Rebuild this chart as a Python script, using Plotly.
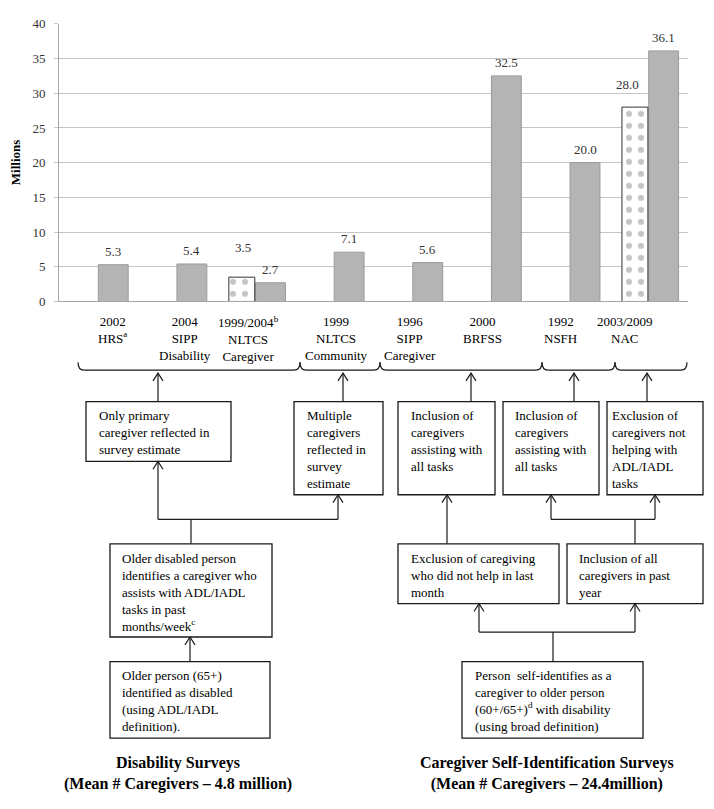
import plotly.graph_objects as go

# the page body keeps its default 8px margin on every side, so the figure is
# made 16px smaller and everything below is given in window pixels, shifted back
OFF = 8
W, H = 714 - 2 * OFF, 809 - 2 * OFF
SERIF = "Liberation Serif"

# survey estimates of caregivers (millions)
surveys = ["2002 HRS", "2004 SIPP Disability", "1999/2004 NLTCS Caregiver", "1999 NLTCS Community",
           "1996 SIPP Caregiver", "2000 BRFSS", "1992 NSFH", "2003/2009 NAC"]
tick_labels = ["2002<br>HRS<sup>a</sup>", "2004<br>SIPP<br>Disability", "1999/2004<sup>b</sup><br>NLTCS<br>Caregiver",
               "1999<br>NLTCS<br>Community", "1996<br>SIPP<br>Caregiver", "2000<br>BRFSS", "1992<br>NSFH",
               "2003/2009<br>NAC"]
solid_values = [5.3, 5.4, 2.7, 7.1, 5.6, 32.5, 20.0, 36.1]
dotted_values = [None, None, 3.5, None, None, None, None, 28.0]

# pixel nudges for the text under the axis
tick_shift = [14, 8, -7, 2, -3, -9, -10, -24]


def px(x):
    return (x - OFF) / W


def py(y):
    return 1 - (y - OFF) / H


fig = go.Figure()

fig.add_trace(go.Bar(
    x=surveys, y=solid_values, offset=0, width=0.38,
    marker=dict(color="#b4b4b4", line=dict(color="#9a9a9a", width=1)),
    hoverinfo="y", showlegend=False))

fig.add_trace(go.Bar(
    x=surveys, y=dotted_values, offset=-0.34, width=0.33,
    marker=dict(color="white", line=dict(color="#333333", width=1),
                pattern=dict(shape=".", fgcolor="#8a8a8a", bgcolor="white", size=12, solidity=0.2)),
    hoverinfo="y", showlegend=False))

annotations = []
shapes = []

# value labels above bars
for name, v in zip(surveys, solid_values):
    annotations.append(dict(x=name, y=v, xref="x", yref="y", text=f"{v:.1f}", showarrow=False,
                            xshift=15, yshift=4, yanchor="bottom",
                            font=dict(family=SERIF, size=13, color="#333333")))
dotted_nudge = {2: (1, 16), 7: (-7, 9)}
for i, (name, v) in enumerate(zip(surveys, dotted_values)):
    if v is None:
        continue
    dx, dy = dotted_nudge.get(i, (0, 0))
    annotations.append(dict(x=name, y=v, xref="x", yref="y", text=f"{v:.1f}", showarrow=False,
                            xshift=-14 + dx, yshift=4 + dy, yanchor="bottom",
                            font=dict(family=SERIF, size=13, color="#333333")))

# category labels
for name, lab, s in zip(surveys, tick_labels, tick_shift):
    annotations.append(dict(x=name, y=py(311), xref="x", yref="paper", text=lab, showarrow=False,
                            xshift=s, yanchor="top", align="center",
                            font=dict(family=SERIF, size=13, color="black")))

annotations.append(dict(x=px(15), y=py(158), xref="paper", yref="paper", text="<b>Millions</b>",
                        textangle=-90, showarrow=False, xanchor="center", yanchor="middle",
                        font=dict(family=SERIF, size=13, color="black")))

LC = "#1a1a1a"


def line(x0, y0, x1, y1):
    shapes.append(dict(type="line", xref="paper", yref="paper", x0=px(x0), y0=py(y0), x1=px(x1), y1=py(y1),
                       line=dict(color=LC, width=1.2)))


def arrow_up(x, y_from, y_to):
    line(x, y_from, x, y_to)
    shapes.append(dict(type="path", xref="paper", yref="paper",
                       path=f"M {px(x - 5)},{py(y_to + 8)} L {px(x)},{py(y_to)} L {px(x + 5)},{py(y_to + 8)}",
                       line=dict(color=LC, width=1.2)))


def brace(x0, x1, y=370, h=8, r=6):
    path = (f"M {px(x0)},{py(y - h)} Q {px(x0)},{py(y)} {px(x0 + r)},{py(y)} "
            f"L {px(x1 - r)},{py(y)} Q {px(x1)},{py(y)} {px(x1)},{py(y - h)}")
    shapes.append(dict(type="path", xref="paper", yref="paper", path=path, line=dict(color=LC, width=1.2)))


def box(x0, y0, x1, y1, text, pad=11):
    shapes.append(dict(type="rect", xref="paper", yref="paper", x0=px(x0), y0=py(y0), x1=px(x1), y1=py(y1),
                       line=dict(color=LC, width=1.3), fillcolor="rgba(0,0,0,0)"))
    annotations.append(dict(x=px(x0 + pad), y=py(y0 + 5), xref="paper", yref="paper", text=text,
                            showarrow=False, xanchor="left", yanchor="top", align="left",
                            font=dict(family=SERIF, size=13, color="black")))


# braces under the categories
brace(78, 300)
brace(300, 380)
brace(380, 542)
brace(542, 615)
brace(615, 687)

# first row of boxes
box(86, 402, 231, 463, "Only primary<br>caregiver reflected in<br>survey estimate")
box(294, 402, 383, 497, "Multiple<br>caregivers<br>reflected in<br>survey<br>estimate")
box(398, 402, 495, 497, "Inclusion of<br>caregivers<br>assisting with<br>all tasks")
box(503, 402, 599, 497, "Inclusion of<br>caregivers<br>assisting with<br>all tasks", pad=10)
box(607, 402, 703, 497, "Exclusion of<br>caregivers not<br>helping with<br>ADL/IADL<br>tasks", pad=3)

arrow_up(158, 402, 373)
arrow_up(343, 402, 373)
arrow_up(471, 402, 373)
arrow_up(574, 402, 373)
arrow_up(647, 402, 373)

# second row
box(110, 547, 272, 642, "Older disabled person<br>identifies a caregiver who<br>assists with ADL/IADL<br>"
                        "tasks in past<br>months/week<sup>c</sup>", pad=10)
box(398, 547, 559, 608, "Exclusion of caregiving<br>who did not help in last<br>month")
box(567, 547, 703, 608, "Inclusion of all<br>caregivers in past<br>year", pad=10)

line(191, 547, 191, 522)
line(158, 522, 338, 522)
arrow_up(158, 522, 463)
arrow_up(338, 522, 497)

arrow_up(447, 547, 497)
line(635, 547, 635, 522)
line(551, 522, 655, 522)
arrow_up(551, 522, 497)
arrow_up(655, 522, 497)

# third row
box(110, 667, 270, 745, "Older person (65+)<br>identified as disabled<br>(using ADL/IADL<br>definition).", pad=10)
box(462, 667, 643, 745, "Person  self-identifies as a<br>caregiver to older person<br>"
                        "(60+/65+)<sup>d</sup> with disability<br>(using broad definition)")

arrow_up(190, 667, 642)
line(553, 667, 553, 637)
line(479, 637, 635, 637)
arrow_up(479, 637, 608)
arrow_up(635, 637, 608)

# group titles
annotations.append(dict(x=px(178), y=py(781), xref="paper", yref="paper", xanchor="center", yanchor="middle",
                        text="<b>Disability Surveys<br>(Mean # Caregivers – 4.8 million)</b>",
                        showarrow=False, align="center", font=dict(family=SERIF, size=16, color="black")))
annotations.append(dict(x=px(547), y=py(781), xref="paper", yref="paper", xanchor="center", yanchor="middle",
                        text="<b>Caregiver Self-Identification Surveys<br>(Mean # Caregivers – 24.4million)</b>",
                        showarrow=False, align="center", font=dict(family=SERIF, size=16, color="black")))

fig.update_layout(
    width=W, height=H, autosize=False,
    margin=dict(l=0, r=0, t=0, b=0),
    plot_bgcolor="white", paper_bgcolor="white",
    barmode="overlay",
    xaxis=dict(domain=[px(59), px(688)], range=[-0.5, 7.5], showticklabels=False, ticks="",
               showgrid=False, showline=True, linecolor="#a6a6a6", linewidth=1, fixedrange=True),
    yaxis=dict(domain=[py(300), py(17)], range=[0, 40], dtick=5, showgrid=True, gridcolor="#c4c4c4",
               gridwidth=1, showline=True, linecolor="#a6a6a6", ticks="outside", ticklen=4,
               tickcolor="#c4c4c4", ticklabelstandoff=6, zeroline=False,
               tickfont=dict(family=SERIF, size=13, color="#333333"), fixedrange=True),
    annotations=annotations,
    shapes=shapes,
)

fig.write_html("out.html")
